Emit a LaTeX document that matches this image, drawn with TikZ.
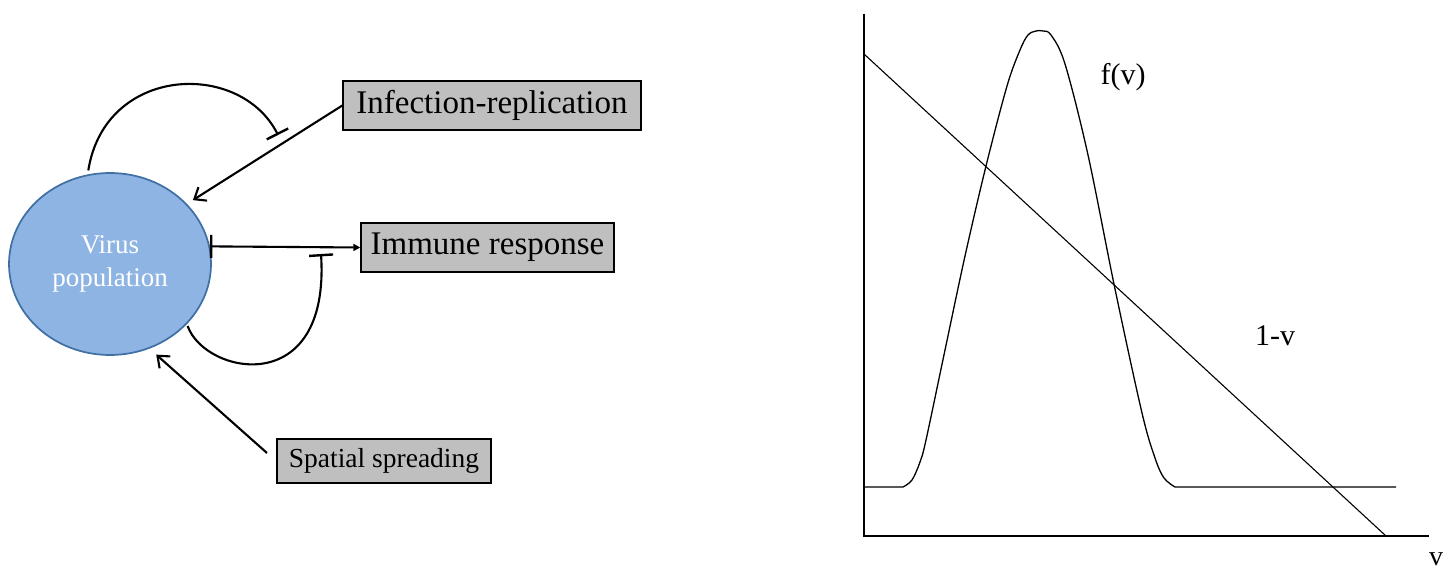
\documentclass[tikz,border=0pt]{standalone}
\usepackage{fontspec}
\setmainfont{Liberation Serif}
\usetikzlibrary{arrows.meta,shapes.geometric,calc}
\definecolor{virusfill}{HTML}{8EB4E3}
\definecolor{virusedge}{HTML}{3F6FA3}
\definecolor{boxgray}{HTML}{BFBFBF}

\begin{document}
\begin{tikzpicture}[x=1pt,y=1pt,
  labelbox/.style={draw=black, line width=1.4pt, fill=boxgray, inner sep=0pt},
  link/.style={line width=2.1pt, black},
  drive/.style={link, -{Straight Barb[length=10pt,width=16pt]}},
  inhibit/.style={link, -{Bar[width=24pt,line width=2.4pt]}},
  curve/.style={line width=1.3pt},
  axis/.style={line width=1.7pt},
  plotlabel/.style={font=\fontsize{30}{36}\selectfont, inner sep=0pt}]

% canvas
\fill[white] (0,0) rectangle (1453,-572);
\useasboundingbox (0,0) rectangle (1453,-572);

% ---------- regulatory loop ----------
\node[ellipse, draw=virusedge, line width=1.7pt, fill=virusfill,
      minimum width=202pt, minimum height=182pt, inner sep=0pt,
      text=white, align=center, font=\fontsize{27}{33}\selectfont]
  (virus) at (110,-264) {Virus\\population};

\node[labelbox, minimum width=298pt, minimum height=49pt,
      font=\fontsize{33}{40}\selectfont]
  (infect) at (492,-105.5) {Infection-replication};
\node[labelbox, minimum width=253pt, minimum height=49pt,
      font=\fontsize{33}{40}\selectfont]
  (immune) at (487.5,-247.5) {Immune response};
\node[labelbox, minimum width=214pt, minimum height=44pt,
      font=\fontsize{27.5}{33}\selectfont]
  (spatial) at (384,-461) {Spatial spreading};

\coordinate (spreadfrom) at (267,-453);
\coordinate (topbar) at (278,-135);
\coordinate (lowbar) at (321,-254);

% driving inputs
\draw[drive, shorten >=7pt] (infect.west) -- (virus.38);
\draw[drive, shorten >=9pt] (spreadfrom) -- (virus.-65);

% virus <-> immune response
\draw[link, {Bar[width=23pt,line width=2.4pt]}-{Triangle[length=7pt,width=7pt]}]
  (virus.10) -- (immune.west);

% feedback loops ending in inhibition bars
\draw[inhibit, shorten <=4pt] (virus.104)
  .. controls (105,-65) and (240,-60) .. (topbar);
\draw[inhibit, shorten <=2pt] (virus.-38)
  .. controls (205,-375) and (330,-400) .. (lowbar);

% ---------- response curve ----------
\draw[axis] (864,-14) -- (864,-536) -- (1429,-536);
\draw[curve, line width=1.1pt] (864,-54) -- (1386,-536);
\draw[curve, line join=round] (864,-487) -- (903,-487)
  -- plot[smooth, tension=0.55] coordinates {
    (903,-487) (912,-480) (920,-462) (926,-440) (945,-350) (965,-256)
    (986,-166) (1007,-86) (1020,-50) (1028,-35) (1036,-31) (1043,-31)
    (1051,-35) (1065,-64) (1088,-155) (1115,-289) (1142,-413)
    (1155,-458) (1164,-478) (1175,-487)}
  -- (1396,-487);

\node[plotlabel] (flabel) at (1123,-77) {f(v)};
\node[plotlabel] (linelabel) at (1275,-336) {1-v};
\node[plotlabel, font=\fontsize{28}{34}\selectfont, anchor=base]
  (vlabel) at (1436,-565) {v};
\end{tikzpicture}
\end{document}
